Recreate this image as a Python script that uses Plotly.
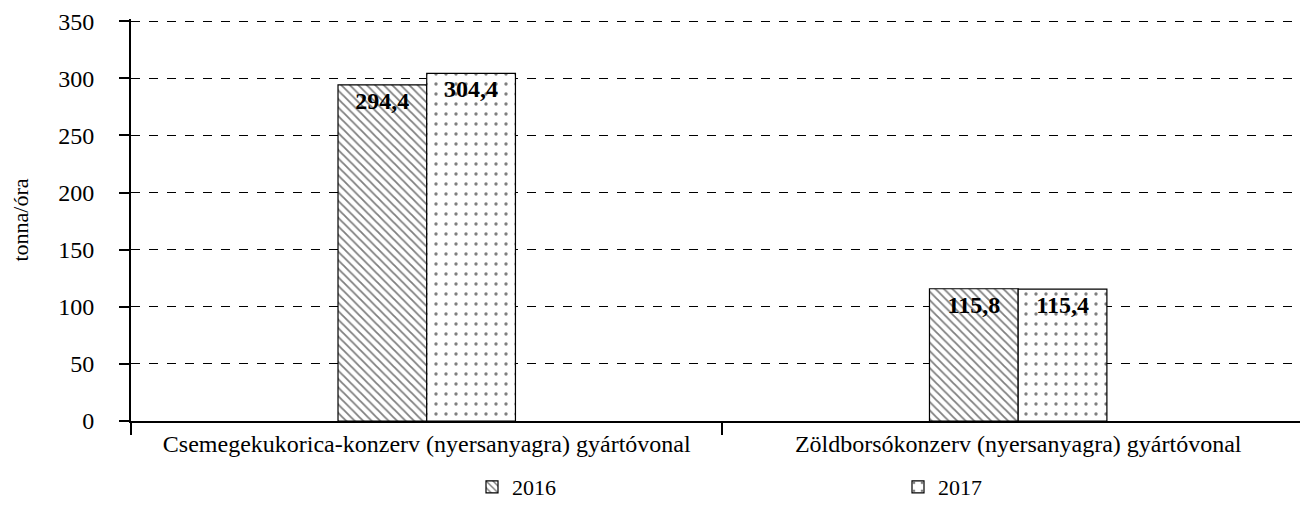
import plotly.graph_objects as go

# Adatok
categories = ['Csemegekukorica-konzerv (nyersanyagra) gyártóvonal',
              'Zöldborsókonzerv (nyersanyagra) gyártóvonal']
values_2016 = [294.4, 115.8]
values_2017 = [304.4, 115.4]


def hu(v):
    return f'{v:.1f}'.replace('.', ',')


font = 'Liberation Serif'

fig = go.Figure()
fig.add_trace(go.Bar(
    x=categories, y=values_2016, name='2016', legend='legend',
    text=[hu(v) for v in values_2016],
    marker=dict(color='white', line=dict(color='black', width=1.2),
                pattern=dict(shape='\\', fgcolor='black', bgcolor='white', size=6, solidity=0.3)),
))
fig.add_trace(go.Bar(
    x=categories, y=values_2017, name='2017', legend='legend2',
    text=[hu(v) for v in values_2017],
    marker=dict(color='white', line=dict(color='black', width=1.2),
                pattern=dict(shape='.', fgcolor='black', bgcolor='white', size=10, solidity=0.09)),
))
fig.update_traces(textposition='inside', insidetextanchor='end', textangle=0,
                  constraintext='none',
                  textfont=dict(family=font, size=24, color='black', weight='bold'))

leg = dict(orientation='h', yref='container', xref='container', yanchor='bottom',
           xanchor='left', y=0, font=dict(family=font, size=22, color='black'),
           bgcolor='rgba(0,0,0,0)', itemwidth=30)

fig.update_layout(
    width=1300, height=500,
    margin=dict(l=123, r=0, t=11, b=87, autoexpand=False),
    plot_bgcolor='white', paper_bgcolor='white',
    barmode='group', bargap=0.7, bargroupgap=0,
    font=dict(family=font, size=24, color='black'),
    showlegend=True,
    legend=dict(leg, x=464 / 1300),
    legend2=dict(leg, x=890 / 1300),
    xaxis=dict(range=[-0.5, 1.49], showline=True, linecolor='black', linewidth=2,
               ticks='outside', tickson='boundaries', ticklen=12, tickwidth=2,
               tickcolor='black', showgrid=False, tickfont=dict(size=24)),
    yaxis=dict(range=[0, 352], tickvals=[0, 50, 100, 150, 200, 250, 300, 350],
               showline=True, linecolor='black', linewidth=2,
               ticks='outside', ticklen=10, tickwidth=2, tickcolor='black',
               ticklabelstandoff=20,
               showgrid=True, gridcolor='black', griddash='dash', gridwidth=1,
               zeroline=False, tickfont=dict(size=24),
               title=dict(text='tonna/óra', font=dict(size=22), standoff=26)),
)

fig.write_html('out.html')
